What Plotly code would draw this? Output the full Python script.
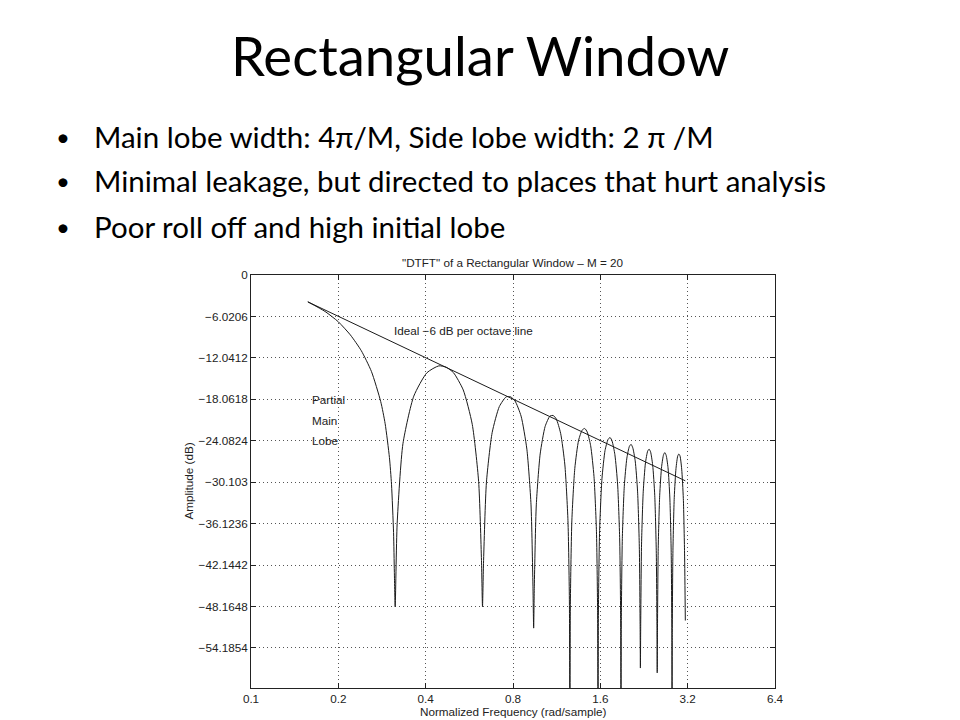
import plotly.graph_objects as go

# ---- data (frequency in rad/sample, amplitude in dB) ----
main_w = [0.157, 0.18, 0.20, 0.22, 0.24, 0.26, 0.28, 0.29, 0.30, 0.305, 0.31, 0.312, 0.314]
main_db = [-3.9, -5.3, -6.8, -8.7, -11.0, -14.0, -18.4, -21.6, -26.5, -30.4, -37.4, -43.2, -48.2]

lobe1_w = [0.319, 0.334, 0.364, 0.404, 0.444, 0.471, 0.499, 0.539, 0.579, 0.609, 0.623, 0.628]
lobe1_db = [-36.1, -24.5, -17.6, -14.2, -13.2, -13.4, -14.2, -16.7, -21.7, -30.0, -41.5, -48.2]

lobe2_w = [0.633, 0.648, 0.678, 0.718, 0.758, 0.785, 0.813, 0.853, 0.893, 0.923, 0.937, 0.9425]
lobe2_db = [-41.9, -30.1, -22.9, -19.1, -17.7, -17.7, -18.3, -20.5, -25.3, -33.4, -44.9, -51.3]

lobe3_w = [0.9475, 0.9625, 0.9925, 1.0325, 1.0725, 1.0996, 1.1275, 1.1675, 1.2075, 1.2375, 1.2515, 1.2566]
lobe3_db = [-45.2, -33.4, -26.0, -22.0, -20.5, -20.4, -20.9, -23.0, -27.6, -35.7, -47.1, -70.0]

lobe4_w = [1.2616, 1.2766, 1.3066, 1.3466, 1.3866, 1.4137, 1.4416, 1.4816, 1.5216, 1.5516, 1.5656, 1.5708]
lobe4_db = [-47.5, -35.6, -28.1, -24.0, -22.5, -22.3, -22.8, -24.8, -29.3, -37.3, -48.7, -70.0]

lobe5_w = [1.5758, 1.5908, 1.6208, 1.6608, 1.7008, 1.7279, 1.7558, 1.7958, 1.8358, 1.8658, 1.8798, 1.885]
lobe5_db = [-49.1, -37.1, -29.6, -25.5, -23.9, -23.6, -24.1, -26.1, -30.5, -38.5, -49.9, -70.0]

lobe6_w = [1.890, 1.905, 1.935, 1.975, 2.015, 2.042, 2.070, 2.110, 2.150, 2.180, 2.194, 2.199]
lobe6_db = [-50.2, -38.3, -30.7, -26.6, -24.9, -24.6, -25.1, -27.0, -31.4, -39.4, -50.8, -57.1]

lobe7_w = [2.204, 2.219, 2.249, 2.289, 2.329, 2.356, 2.384, 2.424, 2.464, 2.494, 2.508, 2.513]
lobe7_db = [-51.1, -39.1, -31.5, -27.3, -25.6, -25.3, -25.7, -27.6, -32.0, -40.0, -51.3, -57.8]

lobe8_w = [2.518, 2.533, 2.563, 2.603, 2.643, 2.670, 2.698, 2.738, 2.778, 2.808, 2.822, 2.827]
lobe8_db = [-51.6, -39.7, -32.0, -27.8, -26.1, -25.8, -26.2, -28.0, -32.4, -40.3, -51.7, -70.0]

lobe9_w = [2.832, 2.847, 2.877, 2.917, 2.957, 2.984, 3.012, 3.052, 3.092, 3.122, 3.141]
lobe9_db = [-51.9, -40.0, -32.3, -28.1, -26.3, -26.0, -26.3, -28.2, -32.5, -40.4, -50.2]

ideal_w = [0.157, 3.14]
ideal_db = [-3.9, -29.9]

x_ticks = [0.1, 0.2, 0.4, 0.8, 1.6, 3.2, 6.4]
x_ticktext = ["0.1", "0.2", "0.4", "0.8", "1.6", "3.2", "6.4"]
y_ticks = [0, -6.0206, -12.0412, -18.0618, -24.0824, -30.103, -36.1236, -42.1442, -48.1648, -54.1854]
y_ticktext = ["0", "\u22126.0206", "\u221212.0412", "\u221218.0618", "\u221224.0824", "\u221230.103",
              "\u221236.1236", "\u221242.1442", "\u221248.1648", "\u221254.1854"]

slide_title = "Rectangular Window"
bullets = [
    "Main lobe width: 4\u03c0/M, Side lobe width: 2 \u03c0 /M",
    "Minimal leakage, but directed to places that hurt analysis",
    "Poor roll off and high initial lobe",
]
chart_title = "\"DTFT\" of a Rectangular Window \u2013 M = 20"

# ---- build ----
curve_w = main_w + lobe1_w + lobe2_w + lobe3_w + lobe4_w + lobe5_w + lobe6_w + lobe7_w + lobe8_w + lobe9_w
curve_db = main_db + lobe1_db + lobe2_db + lobe3_db + lobe4_db + lobe5_db + lobe6_db + lobe7_db + lobe8_db + lobe9_db

fig = go.Figure()
fig.add_trace(go.Scatter(x=curve_w, y=curve_db, mode="lines",
                         line=dict(color="#1a1a1a", width=1, shape="spline", smoothing=0.6),
                         showlegend=False, hoverinfo="skip"))
fig.add_trace(go.Scatter(x=ideal_w, y=ideal_db, mode="lines",
                         line=dict(color="#1a1a1a", width=1),
                         showlegend=False, hoverinfo="skip"))

chart_font = dict(family="Liberation Sans, Arial, sans-serif", size=11.7, color="#222")
slide_font = "Lato, Open Sans, sans-serif"

fig.update_layout(
    width=960, height=720,
    paper_bgcolor="white", plot_bgcolor="white",
    margin=dict(l=243, r=193, t=267, b=40),
    showlegend=False,
    font=chart_font,
)
fig.update_xaxes(
    type="log", range=[-1, 0.80618],
    tickvals=x_ticks, ticktext=x_ticktext,
    showline=True, linecolor="#222", linewidth=1, mirror="ticks",
    ticks="inside", ticklen=5, tickcolor="#222",
    showgrid=True, gridcolor="#555", gridwidth=1, griddash="1px,3px",
    zeroline=False, tickfont=chart_font,
)
fig.update_yaxes(
    range=[-60, 0],
    tickvals=y_ticks, ticktext=y_ticktext,
    showline=True, linecolor="#222", linewidth=1, mirror="ticks",
    ticks="inside", ticklen=5, tickcolor="#222",
    showgrid=True, gridcolor="#555", gridwidth=1, griddash="1px,3px",
    zeroline=False, tickfont=chart_font,
)

ann = []
# slide title
ann.append(dict(text=slide_title, xref="paper", yref="paper", x=0.437, y=1.532,
                xanchor="center", yanchor="middle", showarrow=False,
                font=dict(family=slide_font, size=54.5, color="black")))
bullet_y = [1.336, 1.228, 1.118]
for txt, by in zip(bullets, bullet_y):
    ann.append(dict(text="\u2022", xref="paper", yref="paper", x=-0.359, y=by,
                    xanchor="center", yanchor="middle", showarrow=False,
                    font=dict(family=slide_font, size=24, color="black")))
    ann.append(dict(text=txt, xref="paper", yref="paper", x=-0.304, y=by,
                    xanchor="left", yanchor="middle", showarrow=False,
                    font=dict(family=slide_font, size=29.5, color="black")))
# chart title
ann.append(dict(text=chart_title, xref="paper", yref="paper", x=0.5, y=1.0,
                xanchor="center", yanchor="bottom", showarrow=False, yshift=4,
                font=chart_font))
# axis titles
ann.append(dict(text="Amplitude (dB)", xref="paper", yref="paper", x=-0.12, y=0.5,
                xanchor="center", yanchor="middle", showarrow=False, textangle=-90,
                font=chart_font))
ann.append(dict(text="Normalized Frequency (rad/sample)", xref="paper", yref="paper", x=0.5, y=-0.058,
                xanchor="center", yanchor="middle", showarrow=False, font=chart_font))
# in-plot labels
ann.append(dict(text="Ideal \u22126 dB per octave line", x=-0.515, y=-8.1, xref="x", yref="y",
                xanchor="left", yanchor="middle", showarrow=False, font=chart_font))
for lbl, ly in zip(["Partial", "Main", "Lobe"], [-18.1, -21.1, -24.1]):
    ann.append(dict(text=lbl, x=-0.796, y=ly, xref="x", yref="y",
                    xanchor="left", yanchor="middle", showarrow=False, font=chart_font))
fig.update_layout(annotations=ann)

fig.write_html("out.html")
